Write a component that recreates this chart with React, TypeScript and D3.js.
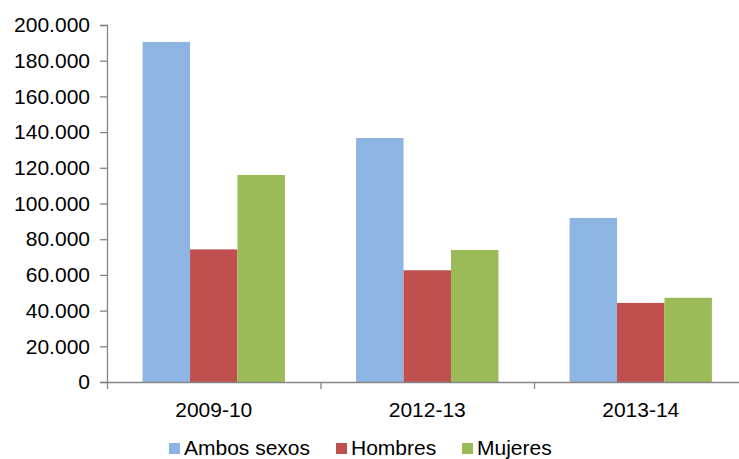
import { useEffect, useRef } from "react";
import * as d3 from "d3";

const WIDTH = 739;
const HEIGHT = 459;
const MARGIN = { top: 25, right: -8.5, bottom: 77, left: 107 };

const categories = ["2009-10", "2012-13", "2013-14"];
const seriesNames = ["Ambos sexos", "Hombres", "Mujeres"];
const ambosSexos = [190500, 136700, 91900];
const hombres = [74300, 62600, 44300];
const mujeres = [116000, 73950, 47200];
const yTicks = [0, 20000, 40000, 60000, 80000, 100000, 120000, 140000, 160000, 180000, 200000];
const colors = ["#8EB4E3", "#C0504D", "#9BBB59"];

const locale = d3.formatLocale({ decimal: ",", thousands: ".", grouping: [3], currency: ["", ""] });
const fmt = locale.format(",");

export default function App() {
  const axesRef = useRef(null);
  const boundsWidth = WIDTH - MARGIN.left - MARGIN.right;
  const boundsHeight = HEIGHT - MARGIN.top - MARGIN.bottom;

  const series = [ambosSexos, hombres, mujeres];

  const x0 = d3.scaleBand().domain(categories).range([0, boundsWidth]).paddingInner(1 / 3).paddingOuter(1 / 6);
  const x1 = d3.scaleBand().domain(seriesNames).range([0, x0.bandwidth()]);
  const xEdge = d3.scaleLinear().domain([0, categories.length]).range([0, boundsWidth]);
  const yScale = d3.scaleLinear().domain([0, 200000]).range([boundsHeight, 0]);

  useEffect(() => {
    const g = d3.select(axesRef.current);
    g.selectAll("*").remove();

    const yAxis = g.append("g").call(d3.axisLeft(yScale).tickValues(yTicks).tickFormat((d) => fmt(d as number)).tickSize(7).tickPadding(10));
    const xTicks = g
      .append("g")
      .attr("transform", `translate(0,${boundsHeight})`)
      .call(d3.axisBottom(xEdge).tickValues([0, 1, 2, 3]).tickFormat(() => "").tickSize(7).tickSizeOuter(0));
    const xLabels = g
      .append("g")
      .attr("transform", `translate(0,${boundsHeight})`)
      .call(d3.axisBottom(x0).tickSize(0).tickPadding(20));
    xLabels.select(".domain").remove();

    [yAxis, xTicks].forEach((a) => {
      a.selectAll("path, line").attr("stroke", "#868686").attr("stroke-width", 1.3);
    });
    [yAxis, xLabels].forEach((a) => {
      a.selectAll("text").attr("font-family", "Liberation Sans, Arial, sans-serif").attr("font-size", 21).attr("fill", "#000");
    });
  }, []);

  return (
    <svg width={WIDTH} height={HEIGHT} style={{ position: "absolute", left: 0, top: 0, background: "#fff" }}>
      <g transform={`translate(${MARGIN.left},${MARGIN.top})`}>
        {categories.map((c, i) => (
          <g key={c} transform={`translate(${x0(c)},0)`}>
            {series.map((s, j) => (
              <rect
                key={seriesNames[j]}
                x={x1(seriesNames[j])}
                y={yScale(s[i])}
                width={x1.bandwidth()}
                height={boundsHeight - yScale(s[i])}
                fill={colors[j]}
              />
            ))}
          </g>
        ))}
      </g>
      <g ref={axesRef} transform={`translate(${MARGIN.left},${MARGIN.top})`} />
      <g fontFamily="Liberation Sans, Arial, sans-serif" fontSize={21}>
        {seriesNames.map((name, i) => {
          const lx = [169, 336, 462][i];
          return (
            <g key={name} transform={`translate(${lx},443)`}>
              <rect width={11} height={11} fill={colors[i]} />
              <text x={15} y={11.5}>{name}</text>
            </g>
          );
        })}
      </g>
    </svg>
  );
}
